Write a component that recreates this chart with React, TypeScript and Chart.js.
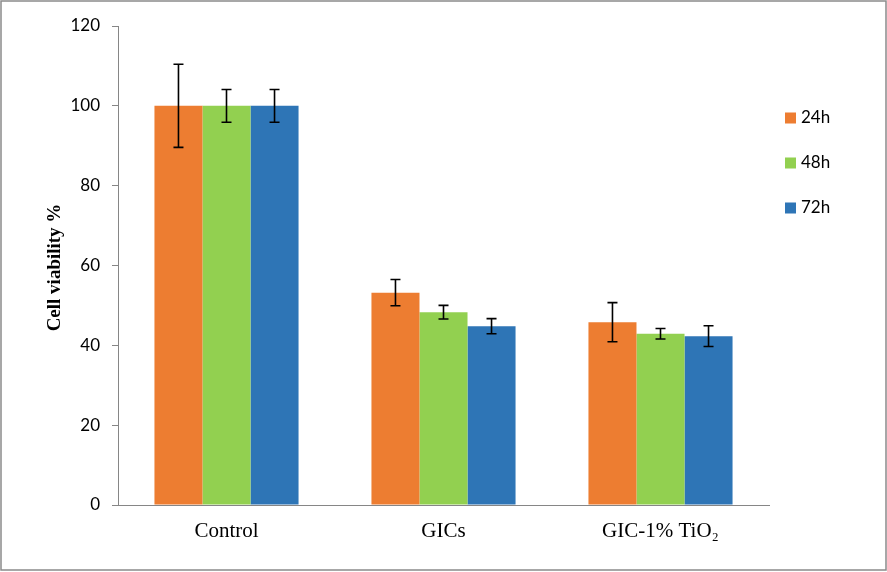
import { useEffect, useRef } from 'react'
import Chart from 'chart.js/auto'

// 세포 생존율 — 그룹 막대 + 오차 막대(플러그인)
const CATEGORIES = ['Control', 'GICs', 'GIC-1% TiO₂']
const SERIES = ['24h', '48h', '72h']
const COLORS = ['#ED7D31', '#92D050', '#2E75B6']

const VAL_24H = [100, 53.2, 45.8]
const VAL_48H = [100, 48.3, 42.9]
const VAL_72H = [100, 44.8, 42.3]

const ERR_24H = [10.4, 3.3, 4.9]
const ERR_48H = [4.1, 1.7, 1.3]
const ERR_72H = [4.1, 1.9, 2.6]

const Y_TICKS = [0, 20, 40, 60, 80, 100, 120]

const VALUES = [VAL_24H, VAL_48H, VAL_72H]
const ERRORS = [ERR_24H, ERR_48H, ERR_72H]

const AXIS_GRAY = '#868686'

export default function App() {
  const canvasRef = useRef<HTMLCanvasElement>(null)
  const chartRef = useRef<Chart | null>(null)

  useEffect(() => {
    document.body.style.margin = '0'
    if (!canvasRef.current) return
    chartRef.current?.destroy()

    // 오차 막대
    const errorBars = {
      id: 'errorBars',
      afterDatasetsDraw(c: any) {
        const { ctx } = c
        const y = c.scales.y
        VALUES.forEach((vals, di) => {
          const meta = c.getDatasetMeta(di)
          vals.forEach((v, i) => {
            const bar = meta.data[i]
            if (!bar) return
            const e = ERRORS[di][i]
            const yt = y.getPixelForValue(v + e)
            const yb = y.getPixelForValue(v - e)
            ctx.save()
            ctx.strokeStyle = '#000'
            ctx.lineWidth = 1.6
            ctx.beginPath()
            ctx.moveTo(bar.x, yt); ctx.lineTo(bar.x, yb)
            ctx.moveTo(bar.x - 5, yt); ctx.lineTo(bar.x + 5, yt)
            ctx.moveTo(bar.x - 5, yb); ctx.lineTo(bar.x + 5, yb)
            ctx.stroke()
            ctx.restore()
          })
        })
      },
    }

    // 범례 + Y축 제목 + 테두리
    const decor = {
      id: 'decor',
      afterDraw(c: any) {
        const { ctx, chartArea } = c
        ctx.save()
        ctx.font = '17px Lato'
        ctx.textBaseline = 'middle'
        ctx.textAlign = 'left'
        SERIES.forEach((s, i) => {
          const yc = 118 + i * 45
          ctx.fillStyle = COLORS[i]
          ctx.fillRect(785, yc - 5.5, 11, 11)
          ctx.fillStyle = '#000'
          ctx.fillText(s, 801, yc)
        })
        ctx.translate(55, (chartArea.top + chartArea.bottom) / 2 + 2)
        ctx.rotate(-Math.PI / 2)
        ctx.font = 'bold 19px "Liberation Serif"'
        ctx.textAlign = 'center'
        ctx.fillText('Cell viability %', 0, 0)
        ctx.restore()
        ctx.save()
        ctx.strokeStyle = '#8a8a8a'
        ctx.lineWidth = 1.5
        ctx.strokeRect(1, 1, 885, 569)
        ctx.restore()
      },
    }

    chartRef.current = new Chart(canvasRef.current, {
      type: 'bar',
      data: {
        labels: CATEGORIES,
        datasets: SERIES.map((s, i) => ({
          label: s,
          data: VALUES[i],
          backgroundColor: COLORS[i],
          borderWidth: 0,
          barPercentage: 1,
          categoryPercentage: 0.664,
        })),
      },
      options: {
        responsive: false,
        animation: false,
        layout: { padding: { top: 26, right: 118, left: 0, bottom: 0 } },
        plugins: { legend: { display: false }, tooltip: { enabled: false } },
        scales: {
          x: {
            grid: { display: false, drawTicks: false },
            border: { display: true, color: AXIS_GRAY, width: 1 },
            ticks: { color: '#000', padding: 14, font: { family: '"Liberation Serif"', size: 21 } },
            afterFit: (s: any) => { s.height = 67 },
          },
          y: {
            min: 0, max: 120,
            afterBuildTicks: (s: any) => { s.ticks = Y_TICKS.map(v => ({ value: v })) },
            grid: { drawOnChartArea: false, drawTicks: true, tickLength: 6, color: AXIS_GRAY },
            border: { display: true, color: AXIS_GRAY, width: 1 },
            ticks: { color: '#000', padding: 12, font: { family: 'Lato', size: 17 } },
            afterFit: (s: any) => { s.width = 118 },
          },
        },
      },
      plugins: [errorBars, decor],
    })

    return () => { chartRef.current?.destroy(); chartRef.current = null }
  }, [])

  return (
    <div style={{ width: 887, height: 572, background: '#fff' }}>
      <canvas ref={canvasRef} width={887} height={572} />
    </div>
  )
}
